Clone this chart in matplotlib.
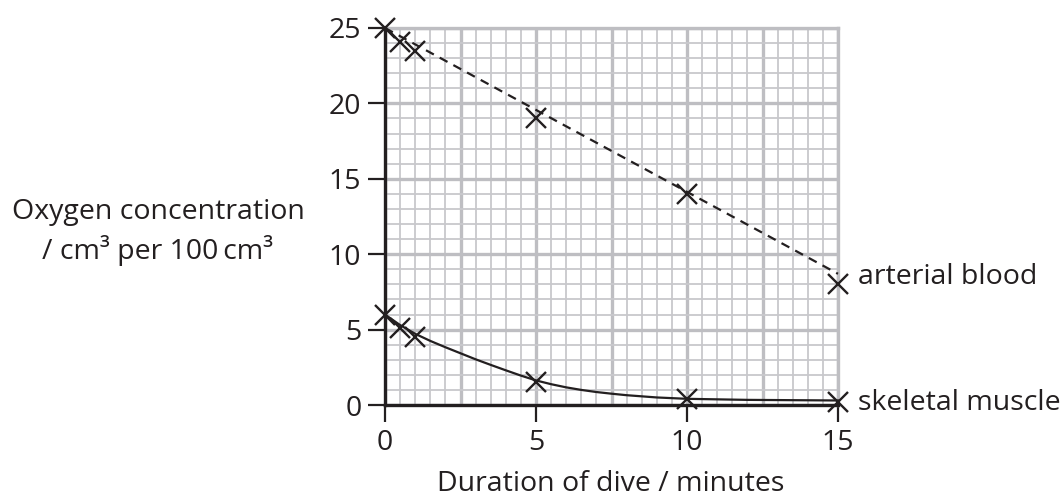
import matplotlib
matplotlib.use("Agg")
import matplotlib.pyplot as plt
import numpy as np

plt.rcParams['font.family'] = ['Open Sans', 'DejaVu Sans']

# measured points (crosses)
dive_min = [0, 0.5, 1, 5, 10, 15]
arterial = [25, 24.1, 23.5, 19, 14, 8]
muscle = [6, 5.1, 4.5, 1.55, 0.4, 0.2]

# hand-drawn trend lines
art_line_x = [0, 15]
art_line_y = [25, 8.7]
mus_line_x = [0, 0.5, 1, 1.5, 2, 2.5, 3, 3.5, 4, 4.5, 5, 5.5, 6, 6.5, 7, 7.5, 8, 9, 10, 12, 15]
mus_line_y = [6.0, 5.3, 4.72, 4.25, 3.83, 3.43, 3.03, 2.66, 2.3, 1.95, 1.63, 1.38, 1.17, 1.0, 0.86, 0.75, 0.65, 0.5, 0.41, 0.34, 0.3]

x_ticks = [0, 5, 10, 15]
y_ticks = [0, 5, 10, 15, 20, 25]

fig = plt.figure(figsize=(10.63, 5.01), dpi=100)
ax = fig.add_axes([385/1063, 96/501, 453/1063, 377/501])

ink = '#231f20'
minor_c = '#c8c8cc'
major_c = '#bebec2'
fs = 20.5

ax.set_xlim(0, 15)
ax.set_ylim(0, 25)
ax.set_xticks(np.arange(0, 15.01, 2.5))
ax.set_xticks(np.arange(0, 15.01, 0.5), minor=True)
ax.set_yticks(np.arange(0, 25.01, 5))
ax.set_yticks(np.arange(0, 25.01, 1), minor=True)
ax.grid(True, which='minor', color=minor_c, lw=1.3, zorder=0)
ax.grid(True, which='major', color=major_c, lw=2.4, zorder=0)
ax.set_axisbelow(True)

# tick labels only at 0, 5, 10, 15
ax.set_xticklabels([str(int(t)) if t in x_ticks else '' for t in np.arange(0, 15.01, 2.5)])
ax.set_yticklabels([str(t) for t in y_ticks])
ax.tick_params(axis='both', which='minor', length=0)
ax.tick_params(axis='both', which='major', length=12, width=1.6, color=ink,
               labelsize=fs, labelcolor=ink, pad=5)
# hide x ticks at 2.5, 7.5, 12.5
for t, lab in zip(ax.xaxis.get_major_ticks(), np.arange(0, 15.01, 2.5)):
    if lab not in x_ticks:
        t.tick1line.set_visible(False)

for s in ['left', 'bottom']:
    ax.spines[s].set_color(ink)
    ax.spines[s].set_linewidth(2.4)
    ax.spines[s].set_zorder(3)
for s in ['top', 'right']:
    ax.spines[s].set_color(major_c)
    ax.spines[s].set_linewidth(2.4)

ax.plot(art_line_x, art_line_y, color=ink, lw=1.6, ls=(0, (4, 3)), zorder=4, clip_on=False)
ax.plot(mus_line_x, mus_line_y, color=ink, lw=1.6, zorder=4, clip_on=False)
ax.plot(dive_min, arterial, ls='none', marker='x', ms=15, mew=1.7, color=ink, zorder=5, clip_on=False)
ax.plot(dive_min, muscle, ls='none', marker='x', ms=15, mew=1.7, color=ink, zorder=5, clip_on=False)

ax.text(15.65, 8.5, 'arterial blood', fontsize=fs, color=ink, ha='left', va='center', clip_on=False)
ax.text(15.65, 0.15, 'skeletal muscle', fontsize=fs, color=ink, ha='left', va='center', clip_on=False)

fig.text(158/1063, 1 - 212/501, 'Oxygen concentration', fontsize=fs, color=ink, ha='center', va='center')
fig.text(158/1063, 1 - 250/501, '/ cm³ per 100\u2009cm³', fontsize=fs, color=ink, ha='center', va='center')
fig.text(611/1063, 1 - 484/501, 'Duration of dive / minutes', fontsize=fs, color=ink, ha='center', va='center')

fig.savefig('out.png', dpi=100)
